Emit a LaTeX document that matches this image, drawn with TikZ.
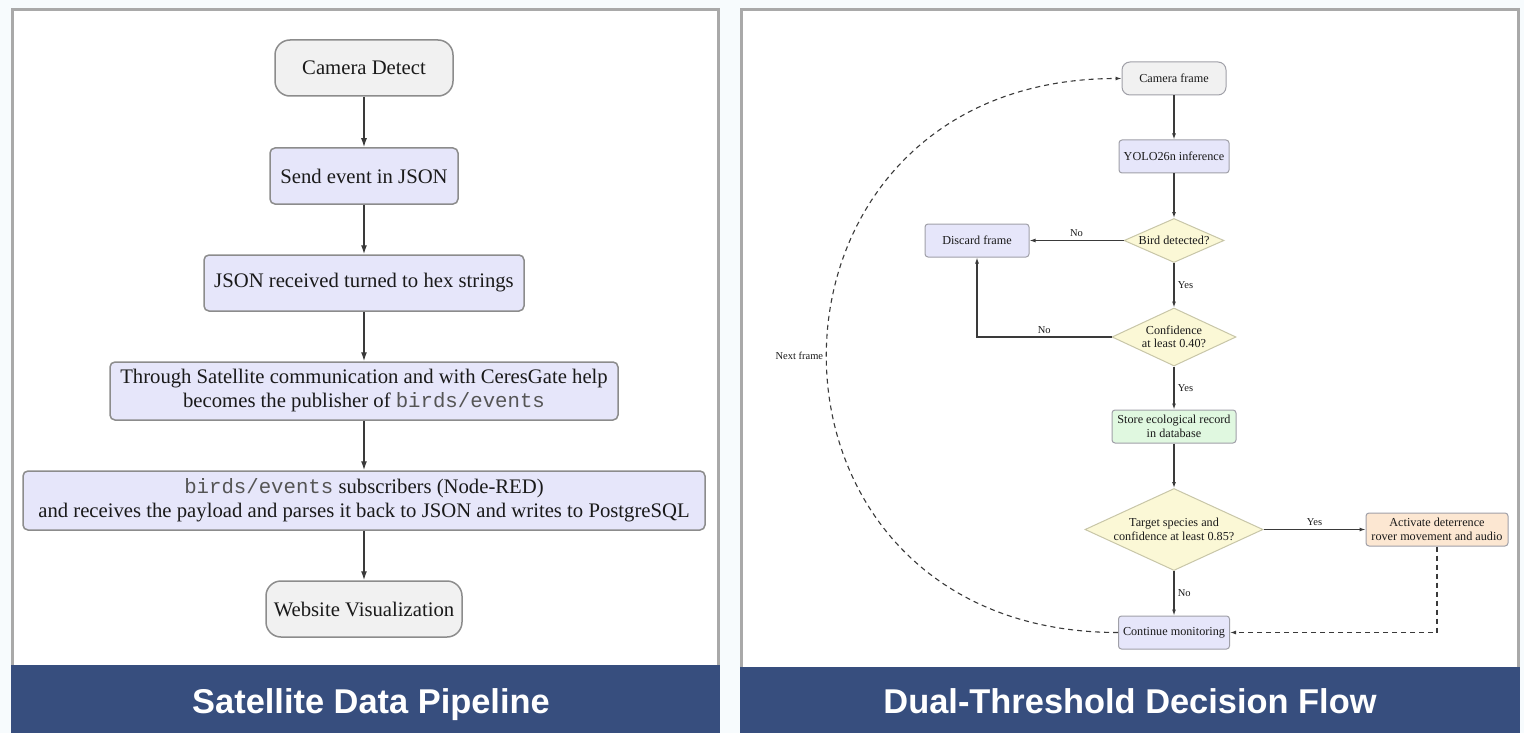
\documentclass[tikz,border=0pt]{standalone}
\usepackage{fontspec}
\setmainfont{Liberation Serif}
\setmonofont{Liberation Mono}
\newfontfamily\capfont{Liberation Sans}
\usetikzlibrary{shapes.geometric,arrows.meta}
\definecolor{bgcol}{HTML}{F7FBFD}
\definecolor{panelborder}{HTML}{A9A9A9}
\definecolor{barblue}{HTML}{374E7E}
\definecolor{lav}{HTML}{E6E6FA}
\definecolor{termgray}{HTML}{F1F1F1}
\definecolor{lborder}{HTML}{8C8C8C}
\definecolor{rborder}{HTML}{A0A0A8}
\definecolor{dborder}{HTML}{C8C6A8}
\definecolor{dyellow}{HTML}{FBF8D6}
\definecolor{lgreen}{HTML}{E0F8E0}
\definecolor{lorange}{HTML}{FCE7D2}
\definecolor{txt}{HTML}{1A1A1A}
\definecolor{arr}{HTML}{3A3A3A}
\definecolor{ttcol}{HTML}{555555}
\tikzset{
  lnode/.style={draw=lborder, line width=1.5pt, fill=lav, rounded corners=5pt, align=center,
    font=\fontsize{20.7}{24}\selectfont, text=txt, inner sep=0pt},
  lterm/.style={lnode, fill=termgray, rounded corners=15pt},
  larrow/.style={line width=1.4pt, draw=arr, -{Latex[length=9pt,width=6pt]}},
  rnode/.style={draw=rborder, line width=1pt, fill=lav, rounded corners=3pt, align=center,
    font=\fontsize{12.2}{13.5}\selectfont, text=txt, inner sep=0pt},
  rterm/.style={rnode, fill=termgray, rounded corners=8pt},
  rdia/.style={diamond, draw=dborder, line width=1pt, fill=dyellow, align=center,
    font=\fontsize{12.2}{13.5}\selectfont, text=txt, inner sep=0pt},
  rarrow/.style={line width=1.1pt, draw=arr, -{Latex[length=6pt,width=4pt]}},
  rdash/.style={rarrow, dash pattern=on 5pt off 4pt},
  rlabel/.style={font=\fontsize{10.5}{12}\selectfont, text=txt},
  captext/.style={text=white, font=\capfont\bfseries\fontsize{34.4}{40}\selectfont, anchor=base},
}
\begin{document}
\begin{tikzpicture}[x=1pt,y=-1pt]
% background and bounding box
\fill[bgcol] (0,0) rectangle (1524,733);
\useasboundingbox (0,0) rectangle (1524,733);
% panels
\draw[panelborder, line width=3pt, fill=white] (12.5,9.5) rectangle (718,666);
\fill[barblue] (11,665) rectangle (719.5,733);
\draw[panelborder, line width=3pt, fill=white] (741,9.5) rectangle (1518.5,668);
\fill[barblue] (739.5,667) rectangle (1520,733);
\node[captext] (cap1) at (371,713) {Satellite Data Pipeline};
\node[captext] (cap2) at (1130,713) {Dual-Threshold Decision Flow};

% ---------- left flow ----------
\node[lterm, minimum width=178pt, minimum height=56pt] (cam) at (364,68) {Camera Detect};
\node[lnode, minimum width=188pt, minimum height=56pt] (send) at (364,176) {Send event in JSON};
\node[lnode, minimum width=320pt, minimum height=56pt] (json) at (364,283) {JSON received turned to hex strings};
\node[lnode, minimum width=508pt, minimum height=58pt] (sat) at (364,391)
  {Through Satellite communication and with CeresGate help\\becomes the publisher of {\ttfamily\color{ttcol}birds/events}};
\node[lnode, minimum width=682pt, minimum height=59pt] (sub) at (364,500.5)
  {{\ttfamily\color{ttcol}birds/events} subscribers (Node-RED)\\and receives the payload and parses it back to JSON and writes to PostgreSQL};
\node[lterm, minimum width=196pt, minimum height=56pt] (web) at (364,609) {Website Visualization};
\draw[larrow] (cam.south) -- (send.north);
\draw[larrow] (send.south) -- (json.north);
\draw[larrow] (json.south) -- (sat.north);
\draw[larrow] (sat.south) -- (sub.north);
\draw[larrow] (sub.south) -- (web.north);

% ---------- right flow ----------
\node[rterm, minimum width=104pt, minimum height=33pt] (cf) at (1174,78.5) {Camera frame};
\node[rnode, minimum width=110pt, minimum height=33pt] (yolo) at (1174,156.5) {YOLO26n inference};
\node[rdia, minimum width=100pt, minimum height=44pt, shape aspect=2.27] (bird) at (1174,240.5) {Bird detected?};
\node[rnode, minimum width=104pt, minimum height=33pt] (disc) at (977,240.5) {Discard frame};
\node[rdia, minimum width=124pt, minimum height=58pt, shape aspect=2.14] (conf) at (1174,337) {Confidence\\at least 0.40?};
\node[rnode, fill=lgreen, minimum width=124pt, minimum height=33pt] (store) at (1174,426.5) {Store ecological record\\in database};
\node[rdia, minimum width=178pt, minimum height=82pt, shape aspect=2.17] (target) at (1174,529.5) {Target species and\\confidence at least 0.85?};
\node[rnode, fill=lorange, minimum width=142pt, minimum height=33pt] (act) at (1437,529.5) {Activate deterrence\\rover movement and audio};
\node[rnode, minimum width=111pt, minimum height=33pt] (cont) at (1174,632.5) {Continue monitoring};

\draw[rarrow] (cf.south) -- (yolo.north);
\draw[rarrow] (yolo.south) -- (bird.north);
\draw[rarrow] (bird.west) -- node[rlabel, above] {No} (disc.east);
\draw[rarrow] (bird.south) -- node[rlabel, right] {Yes} (conf.north);
\draw[rarrow] (conf.west) -| node[rlabel, above, pos=0.25] {No} (disc.south);
\draw[rarrow] (conf.south) -- node[rlabel, right] {Yes} (store.north);
\draw[rarrow] (store.south) -- (target.north);
\draw[rarrow] (target.east) -- node[rlabel, above] {Yes} (act.west);
\draw[rarrow] (target.south) -- node[rlabel, right] {No} (cont.north);
\draw[rdash] (act.south) |- (cont.east);
\draw[rdash] (cont.west) to[out=180, in=180, looseness=1.8]
  node[rlabel, left, pos=0.5] {Next frame} (cf.west);
\end{tikzpicture}
\end{document}
